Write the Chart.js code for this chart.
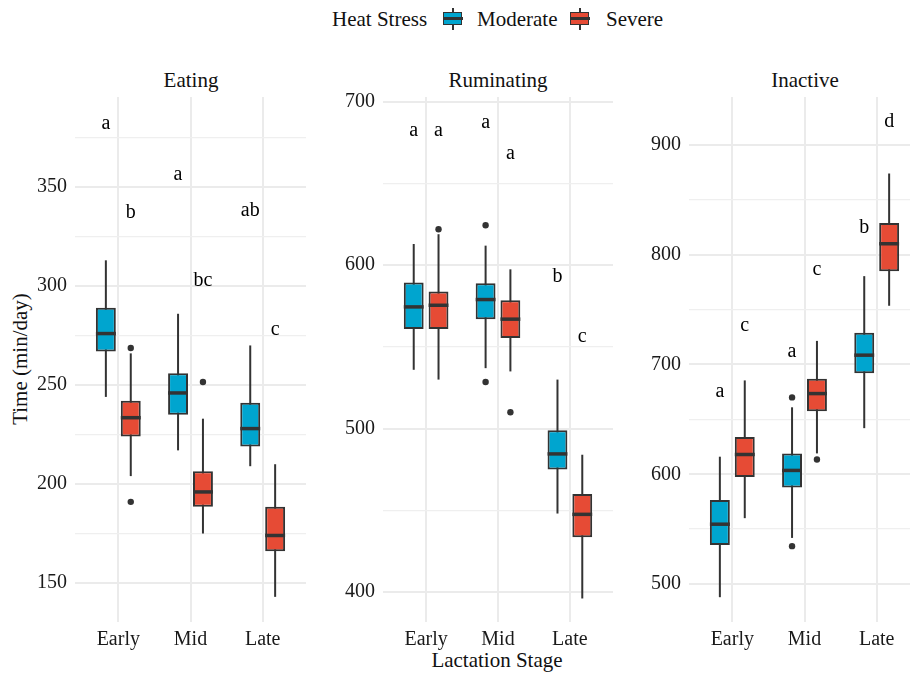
<!DOCTYPE html>
<html>
<head>
<meta charset="utf-8">
<script src="https://cdn.jsdelivr.net/npm/chart.js@4.4.1/dist/chart.umd.min.js"></script>
<style>
  body { margin: 0; width: 910px; height: 674px; overflow: hidden; background: #fff; position: relative;
         font-family: 'Liberation Serif', 'Times New Roman', serif; color: #111; }
  .panel { position: absolute; top: 85px; height: 577px; }
  .txt { position: absolute; font-size: 21px; line-height: 24px; white-space: nowrap; }
  .strip { top: 68px; transform: translateX(-50%); }
  .key { position: absolute; top: 8px; width: 20px; height: 22px; }
  .key .wh { position: absolute; left: 9px; top: 0; width: 2px; height: 22px; background: #333; }
  .key .bx { position: absolute; left: 0; top: 4px; width: 17px; height: 11px; border: 1.5px solid #333; }
  .key .md { position: absolute; left: 0; top: 9px; width: 20px; height: 3px; background: #333; }
</style>
</head>
<body>
<div class="txt" style="left:332px;top:7px">Heat Stress</div>
<div class="key" style="left:443px"><div class="wh"></div><div class="bx" style="background:#00A5CF"></div><div class="md"></div></div>
<div class="txt" style="left:477px;top:7px">Moderate</div>
<div class="key" style="left:570px"><div class="wh"></div><div class="bx" style="background:#E64B35"></div><div class="md"></div></div>
<div class="txt" style="left:606px;top:7px">Severe</div>

<div class="txt strip" style="left:191px">Eating</div>
<div class="txt strip" style="left:498px">Ruminating</div>
<div class="txt strip" style="left:805px">Inactive</div>

<div class="txt" style="left:497px;top:648px;transform:translateX(-50%)">Lactation Stage</div>
<div class="txt" style="left:20px;top:359px;transform:translate(-50%,-50%) rotate(-90deg)">Time (min/day)</div>

<div class="panel" style="left:0;width:306px"><canvas id="eating"></canvas></div>
<div class="panel" style="left:308px;width:305px"><canvas id="ruminating"></canvas></div>
<div class="panel" style="left:614px;width:306px"><canvas id="inactive"></canvas></div>

<script>
// boxes: [lower whisker, q1, median, q3, upper whisker] per stage
const stages = ['Early', 'Mid', 'Late'];

const eatingModerate = [[244, 267, 276, 289, 313], [217, 235, 246, 256, 286], [209, 219, 228, 241, 270]];
const eatingSevere = [[204, 224, 233.5, 242, 266], [175, 188.5, 196, 206.5, 233], [143, 166, 174, 188.5, 210]];
const eatingOutModerate = [[], [], []];
const eatingOutSevere = [[268.7, 191], [251.5], []];
const eatingLettersModerate = ['a', 'a', 'ab'];
const eatingLettersModerateY = [382, 356, 338];
const eatingLettersSevere = ['b', 'bc', 'c'];
const eatingLettersSevereY = [337, 302.5, 278];
const eatingTicks = [150, 200, 250, 300, 350];
const eatingMinor = [175, 225, 275, 325, 375];

const rumModerate = [[536, 561, 574.5, 589.5, 613], [537, 567, 579, 589, 612], [448, 475, 484.5, 499, 530]];
const rumSevere = [[530, 561, 575.5, 584, 619], [535, 555.5, 567, 578.5, 597.5], [396, 433.5, 447.5, 460, 484]];
const rumOutModerate = [[], [624.5, 528.5], []];
const rumOutSevere = [[622], [510], []];
const rumLettersModerate = ['a', 'a', 'b'];
const rumLettersModerateY = [682.5, 687, 593];
const rumLettersSevere = ['a', 'a', 'c'];
const rumLettersSevereY = [682.5, 668.5, 556.5];
const rumTicks = [400, 500, 600, 700];
const rumMinor = [450, 550, 650];

const inModerate = [[488, 535.5, 554.5, 576.5, 616], [542, 588, 603.5, 619, 661], [642, 692, 708.5, 729, 780.5]];
const inSevere = [[560, 597.5, 618, 634, 685.5], [619, 657.5, 673.5, 687, 721.5], [753.5, 785, 810, 829, 874]];
const inOutModerate = [[], [670, 534.5], []];
const inOutSevere = [[], [613.5], []];
const inLettersModerate = ['a', 'a', 'b'];
const inLettersModerateY = [675, 711.5, 824.5];
const inLettersSevere = ['c', 'c', 'd'];
const inLettersSevereY = [735, 786, 921];
const inTicks = [500, 600, 700, 800, 900];
const inMinor = [550, 650, 750, 850];

const colModerate = '#00A5CF';
const colSevere = '#E64B35';
const ink = '#333333';

Chart.defaults.font.family = "'Liberation Serif', 'Times New Roman', serif";
Chart.defaults.font.size = 20;
Chart.defaults.color = '#1a1a1a';

function boxExtras(p) {
    return {
        id: 'boxExtras',
        beforeDatasetsDraw(chart) {
            const ctx = chart.ctx, y = chart.scales.y;
            ctx.save();
            ctx.strokeStyle = ink;
            ctx.lineWidth = 2;
            [p.moderate, p.severe].forEach((boxes, d) => {
                const meta = chart.getDatasetMeta(d);
                boxes.forEach((b, i) => {
                    const x = meta.data[i].x;
                    ctx.beginPath();
                    ctx.moveTo(x, y.getPixelForValue(b[0]));
                    ctx.lineTo(x, y.getPixelForValue(b[4]));
                    ctx.stroke();
                });
            });
            ctx.restore();
        },
        afterDatasetsDraw(chart) {
            const ctx = chart.ctx, y = chart.scales.y;
            ctx.save();
            const groups = [
                [p.moderate, p.outModerate, p.lettersModerate, p.lettersModerateY],
                [p.severe, p.outSevere, p.lettersSevere, p.lettersSevereY]
            ];
            groups.forEach(([boxes, outs, letters, lettersY], d) => {
                const meta = chart.getDatasetMeta(d);
                boxes.forEach((b, i) => {
                    const bar = meta.data[i];
                    const half = bar.width / 2;
                    const ym = y.getPixelForValue(b[2]);
                    ctx.strokeStyle = ink;
                    ctx.lineWidth = 3.5;
                    ctx.beginPath();
                    ctx.moveTo(bar.x - half, ym);
                    ctx.lineTo(bar.x + half, ym);
                    ctx.stroke();

                    ctx.fillStyle = ink;
                    outs[i].forEach(v => {
                        ctx.beginPath();
                        ctx.arc(bar.x, y.getPixelForValue(v), 3.2, 0, Math.PI * 2);
                        ctx.fill();
                    });

                    ctx.fillStyle = '#000';
                    ctx.font = "20px 'Liberation Serif', serif";
                    ctx.textAlign = 'center';
                    ctx.textBaseline = 'middle';
                    ctx.fillText(letters[i], bar.x, y.getPixelForValue(lettersY[i]));
                });
            });
            ctx.restore();
        }
    };
}

function renderPanel(canvasId, p) {
    const toBars = boxes => boxes.map((b, i) => ({ x: i + 1, y: [b[1], b[3]] }));
    const allTicks = p.ticks.concat(p.minor).sort((a, b) => a - b);
    return new Chart(document.getElementById(canvasId), {
        type: 'bar',
        data: {
            datasets: [
                { label: 'Moderate', data: toBars(p.moderate), backgroundColor: colModerate },
                { label: 'Severe', data: toBars(p.severe), backgroundColor: colSevere }
            ]
        },
        options: {
            responsive: true,
            maintainAspectRatio: false,
            animation: false,
            layout: { padding: { top: 12, left: 0, right: 0, bottom: 0 } },
            datasets: {
                bar: {
                    borderColor: ink,
                    borderWidth: 2,
                    borderSkipped: false,
                    categoryPercentage: 0.69,
                    barPercentage: 0.8
                }
            },
            plugins: { legend: { display: false }, tooltip: { enabled: false } },
            scales: {
                x: {
                    type: 'linear',
                    min: 0.4,
                    max: 3.6,
                    offset: false,
                    afterBuildTicks: s => { s.ticks = [1, 2, 3].map(v => ({ value: v })); },
                    afterFit: s => { s.height = 40; s.paddingLeft = 0; s.paddingRight = 0; },
                    border: { display: false },
                    grid: { offset: false, drawTicks: false, color: '#ebebeb', lineWidth: 2 },
                    ticks: {
                        autoSkip: false, maxRotation: 0, padding: 6, color: '#1a1a1a',
                        callback: v => stages[v - 1]
                    }
                },
                y: {
                    min: p.min,
                    max: p.max,
                    afterBuildTicks: s => { s.ticks = allTicks.map(v => ({ value: v })); },
                    afterFit: s => { s.width = 75; s.paddingTop = 0; s.paddingBottom = 0; },
                    border: { display: false },
                    grid: {
                        drawTicks: false,
                        color: c => p.ticks.includes(c.tick.value) ? '#ebebeb' : '#efefef',
                        lineWidth: c => p.ticks.includes(c.tick.value) ? 2 : 1.3
                    },
                    ticks: {
                        padding: 8, color: '#1a1a1a',
                        callback: v => p.ticks.includes(v) ? String(v) : ''
                    }
                }
            }
        },
        plugins: [boxExtras(p)]
    });
}

renderPanel('eating', {
    moderate: eatingModerate, severe: eatingSevere,
    outModerate: eatingOutModerate, outSevere: eatingOutSevere,
    lettersModerate: eatingLettersModerate, lettersModerateY: eatingLettersModerateY,
    lettersSevere: eatingLettersSevere, lettersSevereY: eatingLettersSevereY,
    ticks: eatingTicks, minor: eatingMinor, min: 130.3, max: 395.5
});
renderPanel('ruminating', {
    moderate: rumModerate, severe: rumSevere,
    outModerate: rumOutModerate, outSevere: rumOutSevere,
    lettersModerate: rumLettersModerate, lettersModerateY: rumLettersModerateY,
    lettersSevere: rumLettersSevere, lettersSevereY: rumLettersSevereY,
    ticks: rumTicks, minor: rumMinor, min: 381.6, max: 703
});
renderPanel('inactive', {
    moderate: inModerate, severe: inSevere,
    outModerate: inOutModerate, outSevere: inOutSevere,
    lettersModerate: inLettersModerate, lettersModerateY: inLettersModerateY,
    lettersSevere: inLettersSevere, lettersSevereY: inLettersSevereY,
    ticks: inTicks, minor: inMinor, min: 465.4, max: 943.7
});
</script>
</body>
</html>
